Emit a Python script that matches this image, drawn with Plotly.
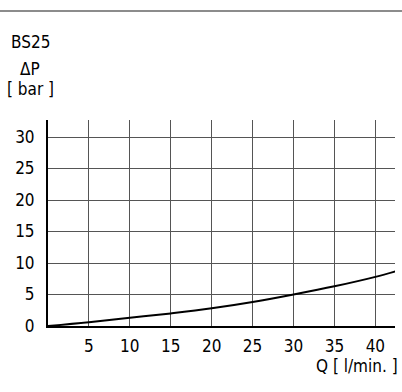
import plotly.graph_objects as go

flow = [0, 5, 10, 15, 20, 25, 30, 35, 40, 42.5]
dp = [0, 0.6, 1.3, 2.0, 2.8, 3.8, 5.0, 6.3, 7.8, 8.7]
x_ticks = [5, 10, 15, 20, 25, 30, 35, 40]
y_ticks = [0, 5, 10, 15, 20, 25, 30]

FONT = "Liberation Sans Narrow, Arial Narrow, DejaVu Sans Condensed, Liberation Sans, Arial"
FS = 17

L, R, T, B = 48, 7, 120, 66
PW, PH = 402 - L - R, 392 - T - B

def px(xp):
    return (xp - L) / PW

def py(yp):
    return (392 - B - yp) / PH

fig = go.Figure()
fig.add_trace(go.Scatter(x=flow, y=dp, mode="lines", line=dict(color="black", width=2, shape="spline"),
                         hoverinfo="skip", showlegend=False))

fig.update_layout(
    width=402, height=392,
    margin=dict(l=L, r=R, t=T, b=B, autoexpand=False),
    paper_bgcolor="white", plot_bgcolor="white",
    font=dict(family=FONT, size=FS, color="black"),
    xaxis=dict(range=[0, 42.4], tickvals=x_ticks, showgrid=True, gridcolor="#555", gridwidth=1,
               zeroline=False, showline=True, linecolor="black", linewidth=2, ticks="",
               automargin=False, tickfont=dict(family=FONT, size=FS, color="black"), ticklabelstandoff=4),
    yaxis=dict(range=[0, 32.7], tickvals=y_ticks, showgrid=True, gridcolor="#555", gridwidth=1,
               zeroline=False, showline=True, linecolor="black", linewidth=2, ticks="",
               automargin=False, tickfont=dict(family=FONT, size=FS, color="black"), ticklabelstandoff=8),
)

fig.add_shape(type="line", xref="paper", yref="paper", x0=px(0), x1=px(402), y0=py(11), y1=py(11),
              line=dict(color="#666", width=1.5))

fig.add_annotation(text="BS25", xref="paper", yref="paper", x=px(9), y=py(42),
                   xanchor="left", yanchor="middle", showarrow=False, font=dict(size=FS, family=FONT))
fig.add_annotation(text="ΔP", xref="paper", yref="paper", x=px(30), y=py(69),
                   xanchor="center", yanchor="middle", showarrow=False, font=dict(size=FS, family=FONT))
fig.add_annotation(text="[ bar ]", xref="paper", yref="paper", x=px(30), y=py(89),
                   xanchor="center", yanchor="middle", showarrow=False, font=dict(size=FS, family=FONT))
fig.add_annotation(text="Q [ l/min. ]", xref="paper", yref="paper", x=px(400), y=py(366),
                   xanchor="right", yanchor="middle", showarrow=False, font=dict(size=FS, family=FONT))

fig.write_html("out.html", config={"displayModeBar": False},
               post_script="document.body.style.margin='0';document.body.style.overflow='hidden';")
